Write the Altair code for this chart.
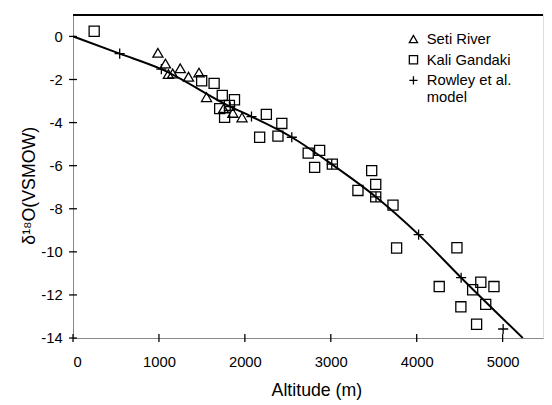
import altair as alt
import pandas as pd

# Seti River (triangles)
seti_alt = [988, 1076, 1110, 1160, 1248, 1344, 1466, 1554, 1752, 1860, 1967]
seti_d18o = [-0.76, -1.26, -1.75, -1.72, -1.48, -1.87, -1.68, -2.82, -3.35, -3.55, -3.76]

# Kali Gandaki (squares)
kali_alt = [246, 1497, 1642, 1737, 1879, 1707, 1764, 1820, 2172, 2250, 2430, 2385,
            2737, 2870, 2812, 3018, 3476, 3523, 3523, 3316, 3724, 3766,
            4468, 4262, 4651, 4746, 4899, 4803, 4514, 4697]
kali_d18o = [0.24, -2.06, -2.18, -2.74, -2.94, -3.35, -3.76, -3.2, -4.68, -3.62, -4.04, -4.63,
             -5.42, -5.29, -6.08, -5.93, -6.23, -6.87, -7.45, -7.15, -7.83, -9.82,
             -9.81, -11.61, -11.76, -11.41, -11.61, -12.44, -12.55, -13.36]

# Rowley et al. model (plus markers)
model_alt = [543, 1028, 1829, 2077, 2546, 3011, 3526, 4022, 4517, 5006]
model_d18o = [-0.8, -1.52, -3.26, -3.72, -4.68, -5.93, -7.45, -9.2, -11.2, -13.58]

# Model curve
curve_alt = [0, 543, 1028, 1829, 2077, 2546, 3011, 3526, 4022, 4517, 5235]
curve_d18o = [0, -0.8, -1.52, -3.26, -3.72, -4.68, -5.93, -7.45, -9.2, -11.2, -14.0]

x_ticks = [0, 1000, 2000, 3000, 4000, 5000]
y_ticks = [0, -2, -4, -6, -8, -10, -12, -14]

series = ["Seti River", "Kali Gandaki", "Rowley et al. model"]

pts = pd.concat([
    pd.DataFrame({"alt": seti_alt, "d": seti_d18o, "s": series[0]}),
    pd.DataFrame({"alt": kali_alt, "d": kali_d18o, "s": series[1]}),
    pd.DataFrame({"alt": model_alt, "d": model_d18o, "s": series[2]}),
])
curve = pd.DataFrame({"alt": curve_alt, "d": curve_d18o})
xt = pd.DataFrame({"t": x_ticks})
yt = pd.DataFrame({"t": y_ticks})

W, H = 477, 328
FONT = "Liberation Sans"

xscale = alt.Scale(domain=[0, 5470], nice=False, zero=False)
yscale = alt.Scale(domain=[-14, 1], nice=False, zero=False)

xaxis = alt.Axis(values=x_ticks, ticks=False, grid=False, labelPadding=17,
                 labelFontSize=15, title="Altitude (m)", titleFontSize=18,
                 titleFontWeight="normal", titleX=247, titleY=44,
                 labelExpr="'' + datum.value")
yaxis = alt.Axis(values=y_ticks, ticks=False, grid=False, labelPadding=11,
                 labelFontSize=15, title="δ¹⁸O(VSMOW)", titleFontSize=18,
                 titleFontWeight="normal", titleX=-35, titleY=173,
                 labelExpr="'' + datum.value")

top_border = alt.Chart(xt).mark_rule(color="black", strokeWidth=1.5).encode(
    x=alt.value(0), x2=alt.value(W), y=alt.value(0)
)

line = alt.Chart(curve).mark_line(color="black", strokeWidth=2, interpolate="monotone", clip=True).encode(
    x=alt.X("alt:Q", scale=xscale, axis=xaxis),
    y=alt.Y("d:Q", scale=yscale, axis=yaxis),
)

plus_path = "M-1,0L1,0M0,-1L0,1"

points = alt.Chart(pts).mark_point(filled=False, color="black", strokeWidth=1.3, size=105, opacity=1).encode(
    x=alt.X("alt:Q", scale=xscale),
    y=alt.Y("d:Q", scale=yscale),
    shape=alt.Shape("s:N", scale=alt.Scale(domain=series, range=["triangle-up", "square", plus_path]),
                    legend=alt.Legend(title=None, orient="none", legendX=338, legendY=17,
                                      labelFontSize=15, labelFont=FONT, symbolSize=70,
                                      symbolStrokeColor="black", symbolStrokeWidth=1.3,
                                      symbolFillColor="white", rowPadding=5, labelOffset=6,
                                      padding=0,
                                      labelExpr="datum.label == 'Rowley et al. model' ? ['Rowley et al.', 'model'] : datum.label")),
)

xticks = alt.Chart(xt).mark_rule(color="black", strokeWidth=1.3).encode(
    x=alt.X("t:Q", scale=xscale), y=alt.value(H - 4), y2=alt.value(H + 4)
)
yticks = alt.Chart(yt).mark_rule(color="black", strokeWidth=1.3).encode(
    y=alt.Y("t:Q", scale=yscale), x=alt.value(-4), x2=alt.value(4)
)

chart = alt.layer(top_border, line, points, xticks, yticks).properties(
    width=W, height=H,
    autosize=alt.AutoSizeParams(type="none"),
    padding={"left": 66, "top": 4, "right": 1, "bottom": 65},
).configure_view(stroke=None).configure_axis(
    domainColor="black", domainWidth=1.5, labelColor="black", titleColor="black",
    labelFont=FONT, titleFont=FONT
).configure(background="white")

chart.save("out.html", embed_options={"renderer": "svg", "actions": False})
